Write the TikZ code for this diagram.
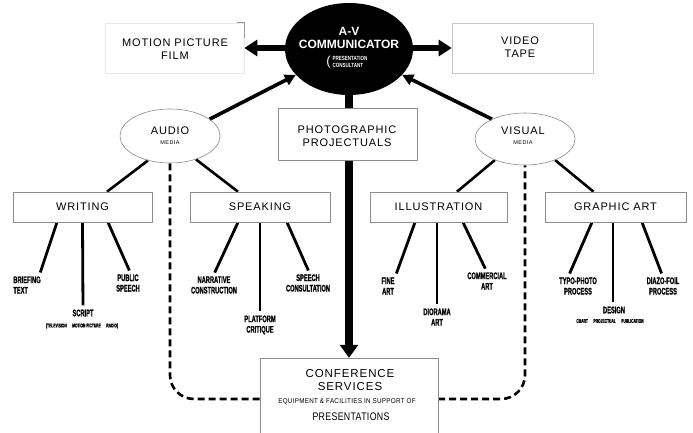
\documentclass[tikz,border=0pt]{standalone}
\usepackage{fontspec}
\setmainfont{Liberation Sans}
\newfontfamily\lblfont{Liberation Sans}[LetterSpace=8]
\newfontfamily\boldlbl{Liberation Sans Bold}
\newfontfamily\leaffont{Liberation Sans Bold}[FakeStretch=0.6,FakeBold=1]
\newfontfamily\hubsmall{Liberation Sans Bold}[FakeStretch=0.75]
\newfontfamily\condfont{Liberation Sans}[FakeStretch=0.9,LetterSpace=4]
\newfontfamily\presfont{Liberation Sans}[FakeStretch=0.8,LetterSpace=3]
\usetikzlibrary{arrows.meta,shapes.geometric}
\pgfdeclarelayer{paper}
\pgfdeclarelayer{bg}
\pgfsetlayers{paper,bg,main}
\begin{document}
\begin{tikzpicture}[x=1pt,y=-1pt,
  every node/.style={inner sep=0pt},
  hub/.style={ellipse, fill=black, minimum width=128pt, minimum height=92pt},
  medium/.style={ellipse, draw=black!45, line width=0.6pt, minimum width=100pt, minimum height=54pt},
  framebox/.style={rectangle, draw=black!45, line width=0.6pt, fill=white},
  faintbox/.style={rectangle, draw=black!9, line width=0.6pt},
  lbl/.style={font=\lblfont\fontsize{11}{13.5}\selectfont, align=center},
  hubtext/.style={text=white, font=\boldlbl\fontsize{12}{12}\selectfont},
  mediatag/.style={font=\lblfont\fontsize{5.5}{6}\selectfont},
  leaf/.style={font=\leaffont\fontsize{9.5}{10.5}\selectfont, align=center},
  leafsub/.style={font=\leaffont\fontsize{5.5}{6}\selectfont},
  sidebar/.style={line width=6pt, arrows={Triangle[width=16pt,length=13pt]-Triangle[width=16pt,length=13pt]}},
  mainbar/.style={line width=8pt, arrows={-Triangle[width=18pt,length=13pt]}},
  feed/.style={line width=3.6pt, arrows={-Triangle[width=11pt,length=11pt]}},
  branch/.style={line width=2.6pt},
  twig/.style={line width=2.8pt, shorten >=4pt},
  returnpath/.style={line width=2.6pt, dash pattern=on 7pt off 4pt, rounded corners=24pt}
]
\useasboundingbox (0,0) rectangle (693,433);
\begin{pgfonlayer}{paper}
  \fill[white] (0,0) rectangle (693,433);
\end{pgfonlayer}

% ---- communicator hub
\node[hub] (comm) at (349,49) {};
\node[hubtext] (commav) at (349,31) {A-V};
\node[hubtext] (commname) at (349,44) {COMMUNICATOR};
\node[text=white, font=\hubsmall\fontsize{6}{7.5}\selectfont, align=left] (consult) at (350,62) {PRESENTATION\\CONSULTANT};
\node[text=white, font=\fontsize{13}{13}\selectfont, anchor=east] (paren) at ([xshift=-1.5pt]consult.west) {(};

% ---- side media
\node[faintbox, minimum width=139pt, minimum height=50pt] (mpf) at (174.5,48) {};
\draw[black!40, line width=0.6pt] ([xshift=-7pt]mpf.north east) -- (mpf.north east) -- ([yshift=-15pt]mpf.north east);
\node[lbl] (mpftxt) at (175,49) {MOTION PICTURE\\FILM};
\node[faintbox, draw=black!22, minimum width=141pt, minimum height=50pt] (vt) at (522.5,48) {};
\node[lbl] (vttxt) at (520,47) {VIDEO\\TAPE};

% ---- audio / visual media
\node[medium] (audio) at (170,136) {};
\node[lbl] (audiotxt) at (170,131) {AUDIO};
\node[mediatag] (audiomed) at (170,143) {MEDIA};
\node[medium, minimum height=52pt] (visual) at (525,139) {};
\node[lbl] (visualtxt) at (523,131) {VISUAL};
\node[mediatag] (visualmed) at (523,143) {MEDIA};

% ---- projectuals
\node[framebox, minimum width=139pt, minimum height=52pt] (photo) at (347.5,134) {};
\node[lbl] (phototxt) at (347,136) {PHOTOGRAPHIC\\PROJECTUALS};

% ---- second level boxes
\node[framebox, minimum width=139pt, minimum height=30pt] (writing) at (82.5,207) {};
\node[lbl] (writingtxt) at (82.5,207) {WRITING};
\node[framebox, minimum width=140pt, minimum height=30pt] (speaking) at (260,207) {};
\node[lbl] (speakingtxt) at (260,207) {SPEAKING};
\node[framebox, minimum width=137pt, minimum height=30pt] (illus) at (438.5,207) {};
\node[lbl] (illustxt) at (438.5,207) {ILLUSTRATION};
\node[framebox, minimum width=141pt, minimum height=30pt] (graphic) at (615.5,207) {};
\node[lbl] (graphictxt) at (615.5,207) {GRAPHIC ART};

% ---- leaves
\node[leaf, align=left] (brief) at (27,285) {BRIEFING\\TEXT};
\node[leaf] (script) at (83,313) {SCRIPT};
\node[leafsub] (scriptsub) at (82,326) {(TELEVISION\quad MOTION PICTURE\quad RADIO)};
\node[leaf] (pub) at (128,283) {PUBLIC\\SPEECH};
\node[leaf] (narr) at (214,285) {NARRATIVE\\CONSTRUCTION};
\node[leaf] (platform) at (260,325) {PLATFORM\\CRITIQUE};
\node[leaf] (speechc) at (308,283) {SPEECH\\CONSULTATION};
\node[leaf] (fine) at (388,286) {FINE\\ART};
\node[leaf] (diorama) at (437,317) {DIORAMA\\ART};
\node[leaf] (commercial) at (487,281) {COMMERCIAL\\ART};
\node[leaf] (typo) at (578,286) {TYPO-PHOTO\\PROCESS};
\node[leaf] (design) at (614,310) {DESIGN};
\node[leafsub] (designsub) at (610,321) {CHART\quad PROJECTUAL\quad PUBLICATION};
\node[leaf] (diazo) at (663,286) {DIAZO-FOIL\\PROCESS};

% ---- conference services
\node[minimum width=178pt, minimum height=75pt] (conf) at (349,395.5) {};
\fill[white] (conf.south west) rectangle (conf.north east);
\draw[black!45, line width=0.6pt] (conf.south west) -- (conf.north west) -- (conf.north east) -- (conf.south east);
\node[lbl, font=\lblfont\fontsize{11.5}{13}\selectfont] (conftxt) at (350,380.5) {CONFERENCE\\SERVICES};
\node[font=\condfont\fontsize{7}{8}\selectfont] (equip) at (347,402) {EQUIPMENT \& FACILITIES IN SUPPORT OF};
\node[font=\presfont\fontsize{11}{12}\selectfont] (pres) at (351,417) {PRESENTATIONS};

\coordinate (dlev) at (0,399);

\begin{pgfonlayer}{bg}
  % main flows
  \draw[sidebar] (mpf.east) -- (vt.west);
  \draw[mainbar] (comm.south) -- (conf.north);
  \draw[feed] (audio.23) -- (comm.206);
  \draw[feed] (visual.149) -- (comm.334);
  % media to disciplines
  \draw[branch] (audio.228) -- ([xshift=24.5pt]writing.north);
  \draw[branch] (audio.318) -- ([xshift=-22pt]speaking.north);
  \draw[branch] (visual.215) -- ([xshift=18.5pt]illus.north);
  \draw[branch] (visual.325) -- ([xshift=-22pt]graphic.north);
  % disciplines to products
  \draw[twig] ([xshift=-25.5pt]writing.south) -- ([xshift=12pt]brief.north);
  \draw[twig] (writing.south) -- (script.north);
  \draw[twig] ([xshift=25.5pt]writing.south) -- ([xshift=3pt]pub.north);
  \draw[twig] ([xshift=-22pt]speaking.south) -- ([xshift=-1pt]narr.north);
  \draw[twig] (speaking.south) -- (platform.north);
  \draw[twig] ([xshift=27pt]speaking.south) -- ([xshift=2pt]speechc.north);
  \draw[twig] ([xshift=-23.5pt]illus.south) -- ([xshift=7pt]fine.north);
  \draw[twig] ([xshift=-1.5pt]illus.south) -- (diorama.north);
  \draw[twig] ([xshift=24.5pt]illus.south) -- (commercial.north);
  \draw[twig] ([xshift=-23.5pt]graphic.south) -- ([xshift=-10pt]typo.north);
  \draw[twig] ([xshift=-2.5pt]graphic.south) -- ([xshift=-1pt]design.north);
  \draw[twig] ([xshift=26.5pt]graphic.south) -- (diazo.north);
  % dashed service returns
  \draw[returnpath] (audio.south) -- (audio.south |- dlev) -- (conf.west |- dlev);
  \draw[returnpath] (conf.east |- dlev) -- (visual.south |- dlev) -- (visual.south);
\end{pgfonlayer}
\end{tikzpicture}
\end{document}
